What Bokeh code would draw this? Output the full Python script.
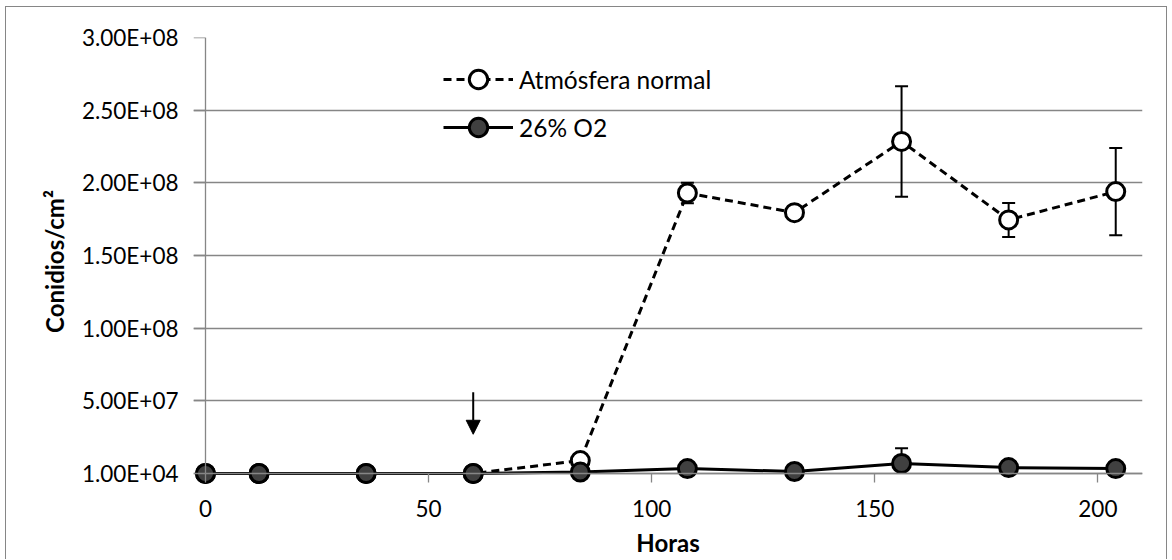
from bokeh.plotting import figure
from bokeh.models import (Range1d, FixedTicker, ColumnDataSource, Whisker, TeeHead,
                          Arrow, NormalHead, Legend, LegendItem, LinearAxis,
                          CustomJSTickFormatter)
from bokeh.embed import file_html
from bokeh.resources import INLINE

# ---------------- data ----------------
hours = [0, 12, 36, 60, 84, 108, 132, 156, 180, 204]
normal = [1e4, 1e4, 1e4, 1e4, 8.9e6, 1.93e8, 1.795e8, 2.285e8, 1.745e8, 1.94e8]
normal_err = [0, 0, 0, 0, 0, 7.0e6, 0, 3.8e7, 1.17e7, 3.0e7]
o2 = [1e4, 1e4, 1e4, 1e4, 1.0e6, 3.4e6, 1.4e6, 6.9e6, 4.1e6, 3.4e6]
o2_err = [0, 0, 0, 0, 0, 0, 0, 1.05e7, 0, 0]
series_names = ["Atmósfera normal", "26% O2"]
x_min, x_max = 0, 210
y_min, y_max = 1e4, 3e8
x_ticks = [0, 50, 100, 150, 200]
y_ticks = [10000, 50000000, 100000000, 150000000, 200000000, 250000000, 300000000]
y_tick_labels = ["1.00E+04", "5.00E+07", "1.00E+08", "1.50E+08", "2.00E+08", "2.50E+08", "3.00E+08"]
x_title = "Horas"
y_title = "Conidios/cm²"
arrow_hour = 60
arrow_from = 5.6e7
arrow_to = 2.7e7

FONT = "Lato"
GRID = "#868686"

# plot area 937 x 436 px, plus a small margin left/below so markers on the axes are not clipped
PLOT_W, PLOT_H = 937, 436
PAD_L, PAD_B = 12, 12
x_pad = PAD_L * (x_max - x_min) / PLOT_W
y_pad = PAD_B * (y_max - y_min) / PLOT_H

p = figure(width=1162, height=553, output_backend="svg", toolbar_location=None,
           x_range=Range1d(x_min - x_pad, x_max), y_range=Range1d(y_min - y_pad, y_max),
           min_border_left=187, min_border_right=26, min_border_top=30, min_border_bottom=75)
p.styles = {"margin-left": "5px", "margin-top": "6px",
            "border": "1px solid #868686", "border-bottom": "none"}
p.outline_line_color = None
p.background_fill_color = "white"
p.border_fill_color = "white"

# grid
p.xgrid.grid_line_color = None
p.ygrid.grid_line_color = GRID
p.ygrid.grid_line_width = 1.3

# side-panel axes: labels and titles only
p.xaxis.ticker = FixedTicker(ticks=x_ticks)
p.yaxis.ticker = FixedTicker(ticks=y_ticks)
p.yaxis.major_label_overrides = {t: l for t, l in zip(y_ticks, y_tick_labels)}
for ax in (p.xaxis[0], p.yaxis[0]):
    ax.axis_line_color = None
    ax.major_tick_line_color = None
    ax.major_tick_in = 0
    ax.major_tick_out = 0
    ax.minor_tick_line_color = None
    ax.major_label_text_font = FONT
    ax.major_label_text_font_size = "22.5px"
    ax.major_label_text_color = "black"
    ax.axis_label_text_font = FONT
    ax.axis_label_text_font_size = "24px"
    ax.axis_label_text_font_style = "bold"
    ax.axis_label_text_color = "black"
p.xaxis.axis_label = x_title
p.yaxis.axis_label = y_title
p.yaxis.major_label_standoff = 15
p.xaxis.major_label_standoff = 14
p.xaxis.axis_label_standoff = 8
p.yaxis.axis_label_standoff = 10

# axis lines and tick marks at the data minimum
blank = CustomJSTickFormatter(code="return ''")
xline = LinearAxis(fixed_location=y_min, ticker=FixedTicker(ticks=x_ticks), bounds=(x_min, x_max),
                   formatter=blank, axis_line_color=GRID, axis_line_width=1.3,
                   major_tick_line_color=GRID, major_tick_line_width=1.3,
                   major_tick_in=0, major_tick_out=9, minor_tick_line_color=None)
yline = LinearAxis(fixed_location=x_min, ticker=FixedTicker(ticks=y_ticks), bounds=(y_min, y_max),
                   formatter=blank, axis_line_color=GRID, axis_line_width=1.3,
                   major_tick_line_color=GRID, major_tick_line_width=1.3,
                   major_tick_in=0, major_tick_out=12, minor_tick_line_color=None)
p.add_layout(xline, "below")
p.add_layout(yline, "left")

src_n = ColumnDataSource(dict(x=hours, y=normal))
src_o = ColumnDataSource(dict(x=hours, y=o2))


def err_source(xs, ys, es):
    rows = [(x, y, e) for x, y, e in zip(xs, ys, es) if e > 0]
    return ColumnDataSource(dict(x=[r[0] for r in rows],
                                 lo=[max(r[1] - r[2], y_min) for r in rows],
                                 hi=[r[1] + r[2] for r in rows]))


# error bars (drawn first, below markers)
p.add_layout(Whisker(source=err_source(hours, normal, normal_err), base="x", lower="lo",
                     upper="hi", dimension="height", line_color="black", line_width=2,
                     upper_head=TeeHead(size=13, line_color="black", line_width=2),
                     lower_head=TeeHead(size=13, line_color="black", line_width=2)))
p.add_layout(Whisker(source=err_source(hours, o2, o2_err), base="x", lower="lo",
                     upper="hi", dimension="height", line_color="black", line_width=2,
                     upper_head=TeeHead(size=13, line_color="black", line_width=2),
                     lower_head=None))

ln = p.line("x", "y", source=src_n, line_color="black", line_width=3, line_dash="8 5")
sn = p.scatter("x", "y", source=src_n, marker="circle", size=18,
               fill_color="white", line_color="black", line_width=3)
lo = p.line("x", "y", source=src_o, line_color="black", line_width=3)
so = p.scatter("x", "y", source=src_o, marker="circle", size=18,
               fill_color="#404040", line_color="black", line_width=3)

# arrow annotation
p.add_layout(Arrow(x_start=arrow_hour, y_start=arrow_from, x_end=arrow_hour, y_end=arrow_to,
                   line_color="black", line_width=2,
                   end=NormalHead(size=14, fill_color="black", line_color="black")))

legend = Legend(items=[LegendItem(label=series_names[0], renderers=[ln, sn]),
                       LegendItem(label=series_names[1], renderers=[lo, so])],
                location=(250, 335), orientation="vertical",
                background_fill_alpha=0, border_line_color=None,
                padding=0, margin=0, spacing=2,
                glyph_width=70, glyph_height=46, label_height=46,
                label_standoff=6,
                label_text_font=FONT, label_text_font_size="24.5px", label_text_color="black")
p.add_layout(legend)

open("out.html", "w").write(file_html(p, INLINE))
